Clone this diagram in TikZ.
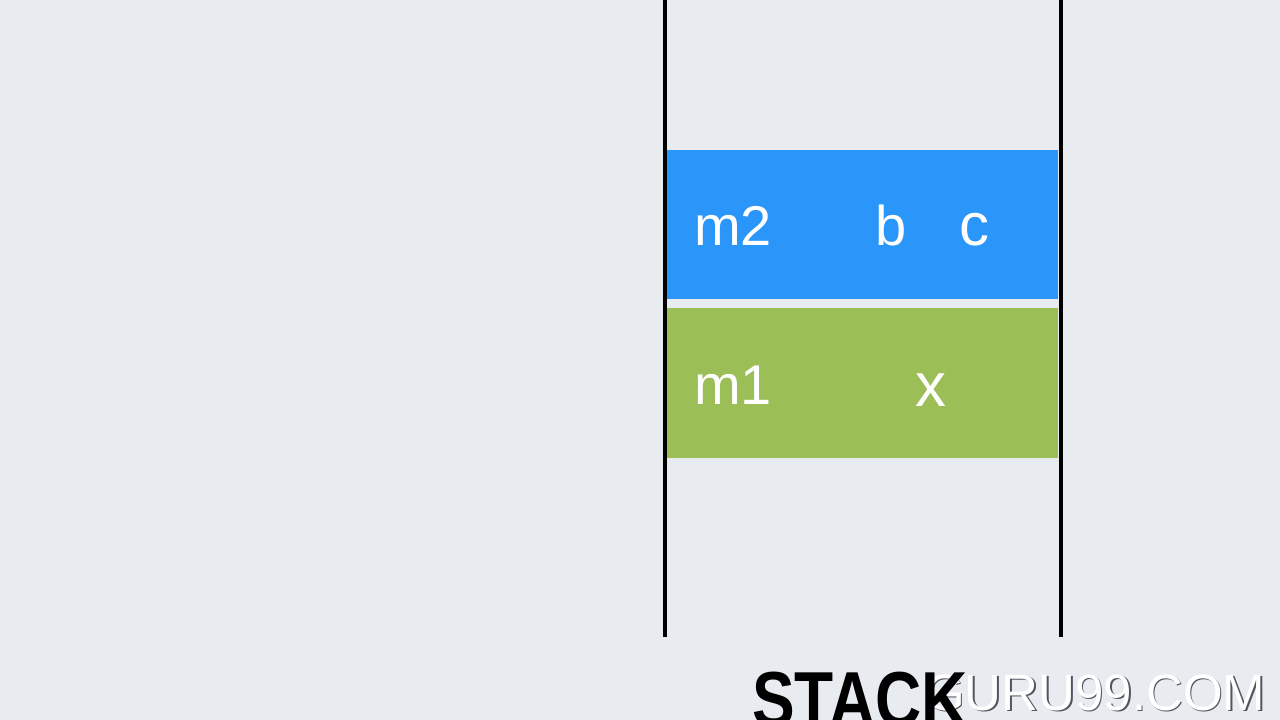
\documentclass[tikz,border=0pt]{standalone}
\usepackage{fontspec}
\setmainfont{Liberation Sans}
\definecolor{bgc}{RGB}{232,236,241}
\definecolor{bluec}{RGB}{42,150,250}
\definecolor{greenc}{RGB}{155,190,86}
\definecolor{wmgray}{RGB}{80,86,96}
\begin{document}
\begin{tikzpicture}[x=1pt,y=-1pt,
  frame/.style={fill=#1,draw=none,inner sep=0pt,anchor=north west},
  lbl/.style={text=white,anchor=base west,inner sep=0pt,font=\fontsize{56}{60}\selectfont},
  wall/.style={line width=3.5pt,black}]
\fill[bgc] (0,0) rectangle (1280,720);
\useasboundingbox (0,0) rectangle (1280,720);
% frames
\node[frame=bluec,minimum width=391pt,minimum height=149pt] (m2box) at (667,150) {};
\node[frame=greenc,minimum width=391pt,minimum height=150pt] (m1box) at (667,308) {};
% walls
\coordinate (lt) at (665,0);
\coordinate (lb) at (665,637);
\coordinate (rt) at (1061,0);
\coordinate (rb) at (1061,637);
\draw[wall] (lt) -- (lb);
\draw[wall] (rt) -- (rb);
% labels
\node[lbl] (m2) at (694,245) {m2};
\node[lbl] (b) at (875,245) {b};
\node[lbl,font=\fontsize{60}{64}\selectfont] (c) at (959,245) {c};
\node[lbl] (m1) at (694,404) {m1};
\node[lbl,font=\fontsize{62}{66}\selectfont] (x) at (915,406) {x};
% watermark
\node[anchor=base west,inner sep=0pt,text=wmgray,font=\fontsize{51}{55}\selectfont] (wm0) at (926.5,711.5) {GURU99.COM};
\node[anchor=base west,inner sep=0pt,text=white,font=\fontsize{51}{55}\selectfont] (wm) at (925,710) {GURU99.COM};
% title
\node[anchor=base west,inner sep=0pt,text=black,xscale=0.82,font=\bfseries\fontsize{78}{80}\selectfont] (stack) at (752,726) {STACK};
\end{tikzpicture}
\end{document}
